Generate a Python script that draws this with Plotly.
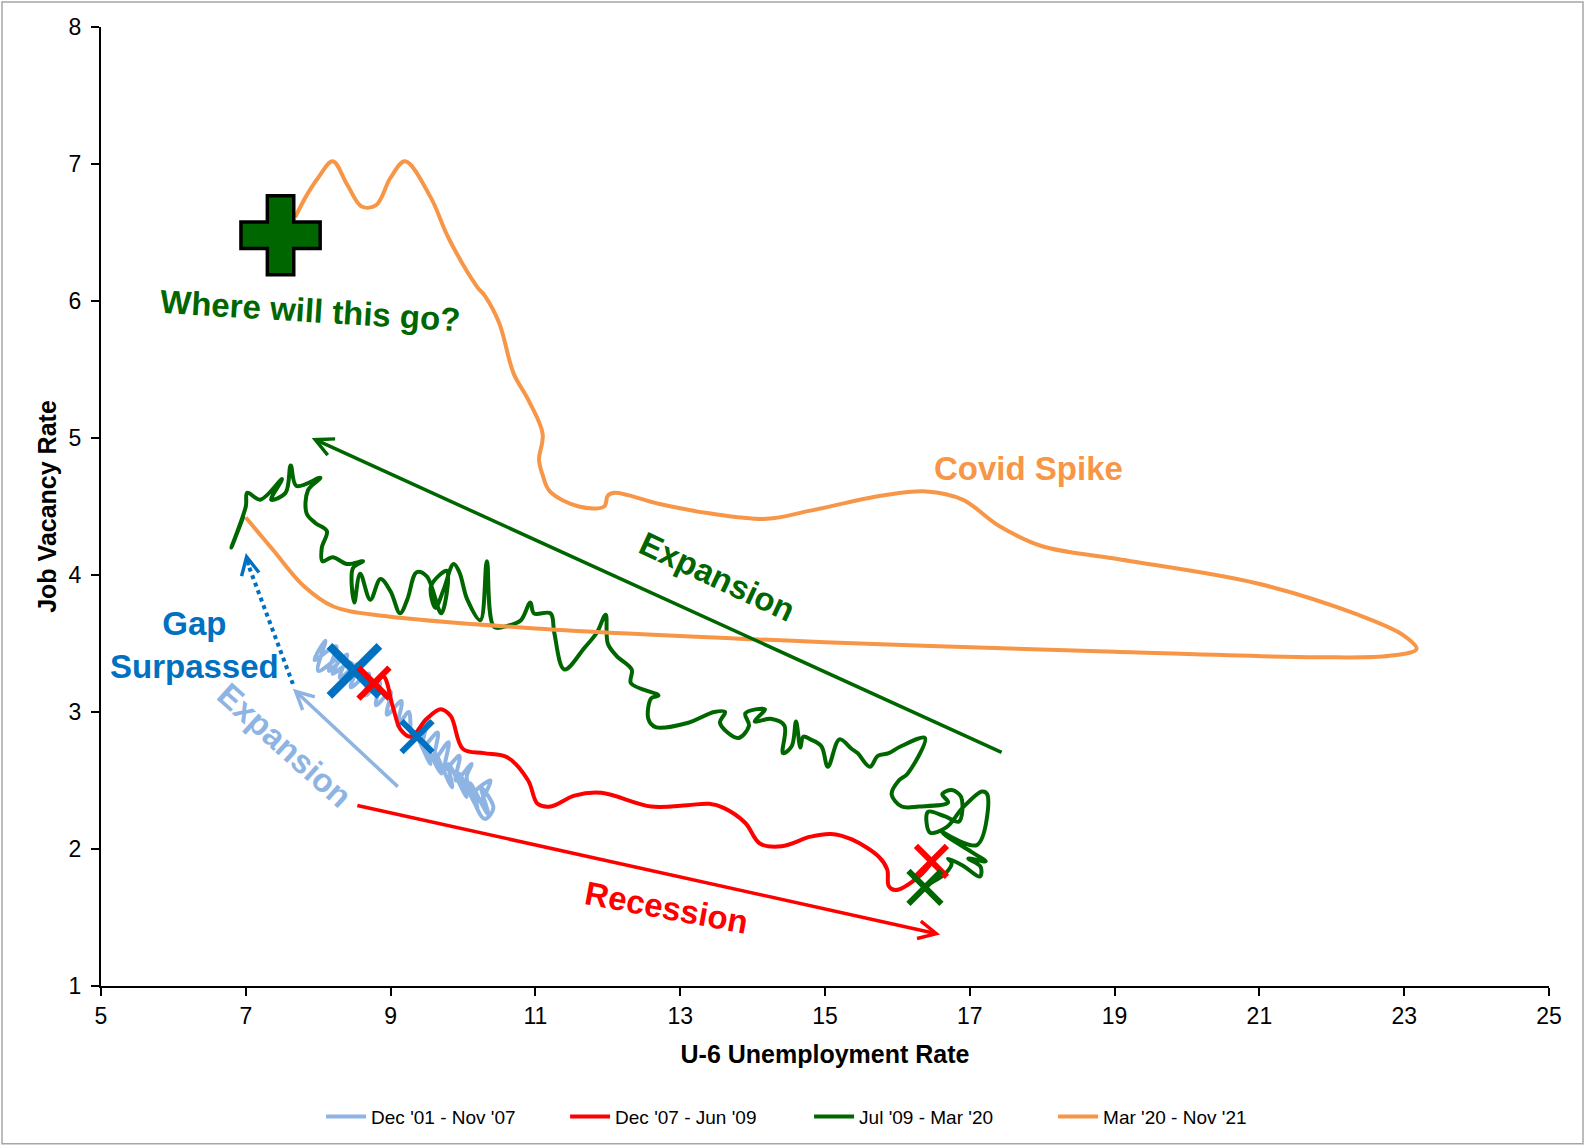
import plotly.graph_objects as go

# Dec '01 - Nov '07 (light blue)
lb_x = [9.37, 9.55, 9.45, 9.70, 9.62, 9.85, 9.80, 10.05, 9.95, 10.20, 10.10, 10.35, 10.25, 10.42, 10.30,
        10.15, 10.38, 10.22, 10.05, 10.12, 9.90, 9.95, 9.75, 9.80, 9.60, 9.65, 9.45, 9.50, 9.30, 9.25,
        9.10, 9.15, 8.95, 9.00, 8.80, 8.85, 8.65, 8.70, 8.45, 8.55, 8.30, 8.40, 8.15, 8.25, 7.95,
        8.10, 8.00, 8.30, 8.20, 8.45, 8.50]
lb_y = [2.82, 2.62, 2.78, 2.55, 2.70, 2.45, 2.62, 2.38, 2.55, 2.30, 2.48, 2.25, 2.45, 2.30, 2.22,
        2.40, 2.50, 2.35, 2.52, 2.62, 2.50, 2.68, 2.58, 2.78, 2.65, 2.85, 2.75, 2.95, 2.82, 3.00,
        2.90, 3.08, 2.98, 3.15, 3.05, 3.22, 3.12, 3.28, 3.18, 3.35, 3.25, 3.42, 3.30, 3.48, 3.38,
        3.52, 3.30, 3.40, 3.28, 3.36, 3.30]

# Dec '07 - Jun '09 (red)
red_x = [8.53, 8.77, 8.90, 9.03, 9.14, 9.28, 9.50, 9.69, 9.83, 10.00, 10.29, 10.61, 10.90, 11.03, 11.21,
         11.54, 11.91, 12.60, 13.10, 13.40, 13.60, 13.90, 14.10, 14.40, 14.80, 15.08, 15.37, 15.75, 15.86,
         15.88, 15.97, 16.30, 16.50]
red_y = [3.33, 3.21, 3.26, 3.04, 2.87, 2.82, 2.95, 3.02, 2.97, 2.73, 2.70, 2.67, 2.50, 2.33, 2.31,
         2.39, 2.41, 2.31, 2.32, 2.33, 2.30, 2.19, 2.04, 2.02, 2.09, 2.11, 2.07, 1.94, 1.85,
         1.73, 1.70, 1.80, 1.92]

# Jul '09 - Mar '20 (green)
gr_x = [16.38, 16.66, 16.75, 16.70, 16.90, 17.14, 17.15, 16.98, 17.22, 17.05, 16.62, 17.10, 17.24, 17.17,
        16.90, 16.68, 16.45, 16.42, 16.65, 16.85, 16.88, 16.75, 16.62, 16.70, 16.30, 16.06, 15.92, 16.02,
        16.14, 16.38, 16.05, 15.88, 15.73, 15.62, 15.45, 15.37, 15.20, 15.04, 14.95, 14.80, 14.70, 14.66,
        14.60, 14.54, 14.42, 14.44, 14.25, 14.03, 14.17, 13.90, 13.95, 13.80, 13.55, 13.62, 13.47, 13.10,
        12.66, 12.56, 12.60, 12.70, 12.32, 12.33, 12.12, 12.00, 11.97, 11.85, 11.68, 11.40, 11.26, 11.21,
        10.98, 10.93, 10.80, 10.62, 10.43, 10.33, 10.24, 10.06, 9.95, 9.87, 9.73, 9.62, 9.56, 9.78,
        9.70, 9.50, 9.36, 9.23, 9.13, 9.00, 8.86, 8.72, 8.58, 8.50, 8.48, 8.62, 8.40, 8.20, 8.06,
        8.05, 8.12, 7.96, 7.84, 7.86, 8.03, 7.70, 7.62, 7.55, 7.35, 7.50, 7.20, 7.02, 7.00, 6.80, 6.97]
gr_y = [1.73, 1.82, 1.90, 1.93, 1.88, 1.80, 1.87, 1.93, 1.91, 1.97, 2.12, 2.03, 2.40, 2.42,
        2.30, 2.16, 2.12, 2.27, 2.24, 2.20, 2.38, 2.43, 2.40, 2.34, 2.31, 2.31, 2.40, 2.50,
        2.55, 2.81, 2.75, 2.70, 2.68, 2.60, 2.70, 2.73, 2.80, 2.60, 2.75, 2.80, 2.82, 2.74,
        2.93, 2.75, 2.70, 2.90, 2.95, 2.93, 3.02, 2.99, 2.90, 2.81, 2.92, 3.00, 3.00, 2.92,
        2.89, 2.95, 3.10, 3.12, 3.21, 3.31, 3.41, 3.50, 3.71, 3.58, 3.47, 3.31, 3.58, 3.72,
        3.72, 3.80, 3.67, 3.63, 3.62, 4.10, 3.67, 3.82, 4.02, 4.08, 3.89, 3.76, 3.92, 4.03,
        3.72, 3.99, 4.02, 3.82, 3.72, 3.88, 3.97, 3.82, 4.01, 3.80, 4.05, 4.10, 4.08, 4.13, 4.10,
        4.20, 4.32, 4.38, 4.45, 4.62, 4.71, 4.65, 4.80, 4.60, 4.55, 4.70, 4.55, 4.60, 4.50, 4.20, 4.43]

# Mar '20 - Nov '21 (orange)
or_x = [7.00, 7.38, 7.80, 8.21, 8.92, 11.00, 15.00, 19.00, 21.80, 22.80, 23.17, 22.99, 22.36, 20.96,
        19.00, 18.00, 17.40, 16.90, 16.40, 15.80, 14.80, 14.20, 13.40, 12.70, 12.10, 12.00, 11.95,
        11.60, 11.20, 11.10, 11.05, 11.10, 10.90, 10.70, 10.50, 10.30, 10.20, 9.80, 9.55, 9.20, 9.00,
        8.80, 8.60, 8.40, 8.20, 8.00, 7.85, 7.68]
or_y = [4.42, 4.18, 3.92, 3.77, 3.70, 3.61, 3.51, 3.44, 3.40, 3.41, 3.46, 3.56, 3.71, 3.94,
        4.12, 4.21, 4.36, 4.55, 4.61, 4.58, 4.47, 4.41, 4.45, 4.52, 4.60, 4.58, 4.50,
        4.50, 4.61, 4.73, 4.84, 5.03, 5.28, 5.47, 5.84, 6.04, 6.10, 6.46, 6.76, 7.02, 6.90,
        6.70, 6.69, 6.85, 7.02, 6.90, 6.78, 6.61]

series_names = ["Dec '01 - Nov '07", "Dec '07 - Jun '09", "Jul '09 - Mar '20", "Mar '20 - Nov '21"]
series_colors = ["#8EB4E3", "#FF0000", "#006600", "#F79646"]

# highlighted points
blue_x_pts = ([8.50, 9.365], [3.30, 2.82])
red_x_pts = ([8.77, 16.47], [3.21, 1.91])
green_x_pts = ([16.38], [1.72])
plus_pt = ([7.48], [6.48])

BLUE = "#0070C0"
FONT = "Liberation Sans"

fig = go.Figure()
for xs, ys, name, col in zip([lb_x, red_x, gr_x, or_x], [lb_y, red_y, gr_y, or_y], series_names, series_colors):
    fig.add_trace(go.Scatter(x=xs, y=ys, mode="lines", name=name,
                             line=dict(color=col, width=4, shape="spline", smoothing=1)))

# X marks
fig.add_trace(go.Scatter(x=[blue_x_pts[0][0]], y=[blue_x_pts[1][0]], mode="markers", showlegend=False,
                         marker=dict(symbol="x-thin", size=50, line=dict(color=BLUE, width=8))))
fig.add_trace(go.Scatter(x=[blue_x_pts[0][1]], y=[blue_x_pts[1][1]], mode="markers", showlegend=False,
                         marker=dict(symbol="x-thin", size=31, line=dict(color=BLUE, width=6))))
fig.add_trace(go.Scatter(x=red_x_pts[0], y=red_x_pts[1], mode="markers", showlegend=False,
                         marker=dict(symbol="x-thin", size=31, line=dict(color="#FF0000", width=6))))
fig.add_trace(go.Scatter(x=green_x_pts[0], y=green_x_pts[1], mode="markers", showlegend=False,
                         marker=dict(symbol="x-thin", size=33, line=dict(color="#006600", width=6))))
fig.add_trace(go.Scatter(x=plus_pt[0], y=plus_pt[1], mode="markers", showlegend=False,
                         marker=dict(symbol="cross", size=66, color="#006600",
                                     line=dict(color="black", width=3.5))))

# arrows: (head_x, head_y, tail_x, tail_y, colour)
arrows = [
    (7.91, 5.00, 17.46, 2.70, "#006600"),
    (16.59, 1.376, 8.52, 2.32, "#FF0000"),
    (7.65, 3.17, 9.12, 2.445, "#8EB4E3"),
]
for hx, hy, tx, ty, col in arrows:
    fig.add_annotation(x=hx, y=hy, ax=tx, ay=ty, xref="x", yref="y", axref="x", ayref="y",
                       text="", showarrow=True, arrowhead=5, arrowsize=1, arrowwidth=3.5,
                       arrowcolor=col)

# dotted "gap surpassed" arrow
fig.add_shape(type="line", x0=7.65, y0=3.205, x1=7.03, y1=4.08, xref="x", yref="y",
              line=dict(color=BLUE, width=4, dash="dot"))
fig.add_annotation(x=7.0, y=4.16, ax=7.04, ay=4.06, xref="x", yref="y", axref="x", ayref="y",
                   text="", showarrow=True, arrowhead=5, arrowsize=1, arrowwidth=3.5, arrowcolor=BLUE)

labels = [
    ("Where will this go?", 7.89, 5.93, 3.5, "#006600"),
    ("Covid Spike", 17.81, 4.78, 0, "#F79646"),
    ("Expansion", 13.51, 3.99, 25, "#006600"),
    ("Recession", 12.81, 1.575, 10.5, "#FF0000"),
    ("Gap<br>Surpassed", 6.29, 3.49, 0, BLUE),
    ("Expansion", 7.54, 2.755, 42, "#8EB4E3"),
]
for txt, lx, ly, ang, col in labels:
    fig.add_annotation(x=lx, y=ly, xref="x", yref="y", text=txt, showarrow=False, textangle=ang,
                       font=dict(family=FONT, size=33, color=col, weight="bold"))

# chart-area border
fig.add_shape(type="rect", xref="paper", yref="paper",
              x0=(2 - 101) / 1448, x1=(1583 - 101) / 1448, y0=(987 - 1145) / 960, y1=(987 - 2) / 960,
              line=dict(color="#A6A6A6", width=1.5), layer="below")

fig.update_layout(
    width=1585, height=1147,
    margin=dict(l=101, r=36, t=27, b=160),
    paper_bgcolor="white", plot_bgcolor="white",
    font=dict(family=FONT, color="black"),
    legend=dict(orientation="h", x=0.489, xanchor="center", y=-0.135, yanchor="middle",
                font=dict(family=FONT, size=19),
                entrywidth=189, itemwidth=40),
)
fig.update_xaxes(range=[5, 25], tick0=5, dtick=2, showgrid=False, zeroline=False,
                 showline=True, linecolor="black", linewidth=2, ticks="outside", ticklen=8,
                 tickwidth=2, tickcolor="black", tickfont=dict(size=23),
                 title=dict(text="U-6 Unemployment Rate", font=dict(size=25, weight="bold"), standoff=18))
fig.update_yaxes(range=[1, 8], dtick=1, showgrid=False, zeroline=False,
                 showline=True, linecolor="black", linewidth=2, ticks="outside", ticklen=8,
                 tickwidth=2, tickcolor="black", tickfont=dict(size=23), ticklabelstandoff=5,
                 title=dict(text="Job Vacancy Rate", font=dict(size=25, weight="bold"), standoff=5))

fig.write_html("out.html", config={"displayModeBar": False},
               post_script="document.body.style.margin='0px';")
